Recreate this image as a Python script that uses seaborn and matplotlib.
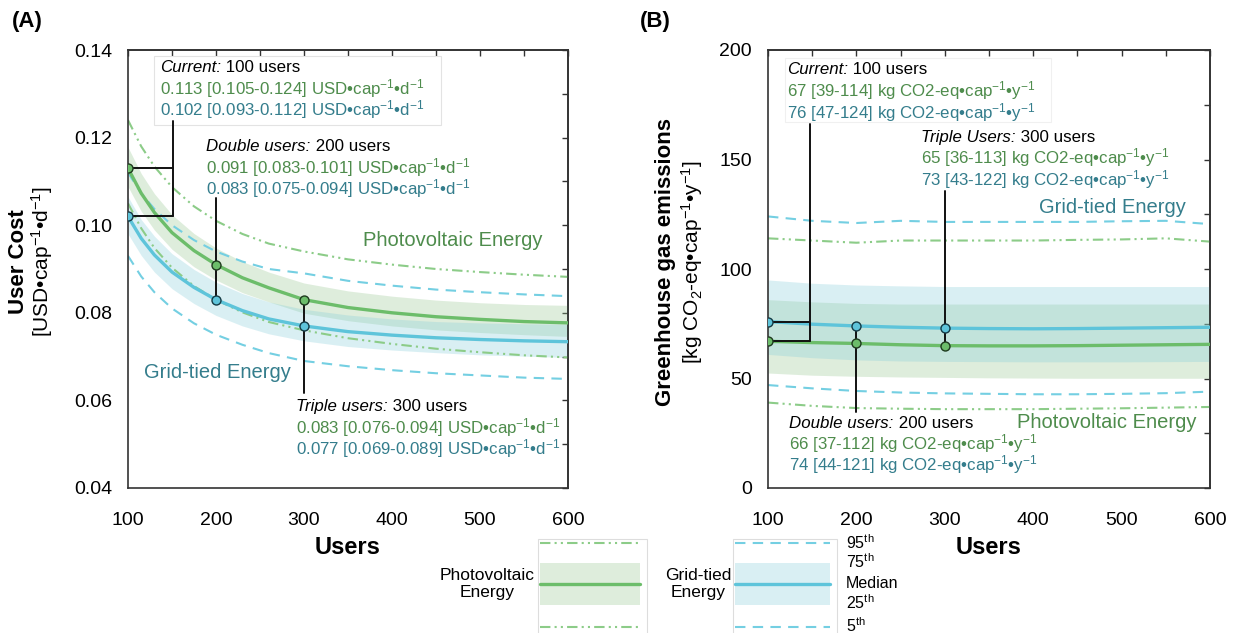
import matplotlib
matplotlib.use("Agg")
import matplotlib.pyplot as plt
import seaborn as sns
from matplotlib.patches import Rectangle
from matplotlib.ticker import MultipleLocator, FormatStrFormatter

# ---------------- data ----------------
# Panel A: user cost [USD/cap/d] vs number of users
users_a = [100, 115, 130, 150, 175, 200, 230, 260, 300, 350, 400, 450, 500, 550, 600]
pv_cost_p50 = [0.1130, 0.1073, 0.1029, 0.0983, 0.0942, 0.0910, 0.0880, 0.0857, 0.0830,
               0.0812, 0.0800, 0.0791, 0.0785, 0.0780, 0.0777]
pv_cost_p25 = [0.1088, 0.1032, 0.0989, 0.0945, 0.0905, 0.0875, 0.0846, 0.0825, 0.0799,
               0.0782, 0.0770, 0.0761, 0.0755, 0.0750, 0.0746]
pv_cost_p75 = [0.1178, 0.1118, 0.1072, 0.1024, 0.0981, 0.0948, 0.0917, 0.0893, 0.0868,
               0.0850, 0.0838, 0.0829, 0.0823, 0.0819, 0.0817]
pv_cost_p5 = [0.1050, 0.0993, 0.0948, 0.0903, 0.0861, 0.0830, 0.0801, 0.0779, 0.0760,
              0.0742, 0.0729, 0.0718, 0.0710, 0.0703, 0.0698]
pv_cost_p95 = [0.1240, 0.1180, 0.1134, 0.1087, 0.1043, 0.1010, 0.0980, 0.0958, 0.0940,
               0.0922, 0.0910, 0.0900, 0.0893, 0.0887, 0.0882]
grid_cost_p50 = [0.1020, 0.0970, 0.0932, 0.0893, 0.0858, 0.0830, 0.0805, 0.0786, 0.0770,
                 0.0757, 0.0749, 0.0743, 0.0739, 0.0736, 0.0734]
grid_cost_p25 = [0.0980, 0.0931, 0.0893, 0.0855, 0.0821, 0.0794, 0.0770, 0.0752, 0.0736,
                 0.0723, 0.0715, 0.0709, 0.0704, 0.0701, 0.0698]
grid_cost_p75 = [0.1065, 0.1013, 0.0975, 0.0935, 0.0899, 0.0870, 0.0844, 0.0825, 0.0808,
                 0.0795, 0.0786, 0.0780, 0.0777, 0.0775, 0.0774]
grid_cost_p5 = [0.0930, 0.0883, 0.0847, 0.0810, 0.0776, 0.0750, 0.0727, 0.0708, 0.0690,
                0.0678, 0.0669, 0.0662, 0.0657, 0.0652, 0.0649]
grid_cost_p95 = [0.1120, 0.1073, 0.1037, 0.1000, 0.0966, 0.0940, 0.0917, 0.0900, 0.0890,
                 0.0873, 0.0862, 0.0853, 0.0847, 0.0842, 0.0838]

# Panel B: greenhouse gas emissions [kg CO2-eq/cap/y] vs number of users
users_b = [100, 150, 200, 250, 300, 350, 400, 450, 500, 550, 600]
pv_ghg_p50 = [67, 66.4, 66, 65.4, 65, 64.9, 64.9, 65, 65.2, 65.4, 65.6]
pv_ghg_p25 = [52.5, 51.5, 51, 50.7, 50.5, 50.3, 50.2, 50.1, 50.1, 50.1, 50.1]
pv_ghg_p75 = [86, 85, 84.3, 84, 84, 84, 84, 84, 84, 84, 84]
pv_ghg_p5 = [39, 37.5, 36.5, 36.2, 36, 36, 36, 36.2, 36.4, 36.7, 37]
pv_ghg_p95 = [114, 113, 112, 113, 113, 113, 113, 113.3, 113.5, 114, 112.5]
grid_ghg_p50 = [76, 74.8, 74, 73.4, 73, 72.8, 72.7, 72.8, 73, 73.2, 73.4]
grid_ghg_p25 = [61, 59.5, 58.5, 58, 57.8, 57.7, 57.6, 57.6, 57.6, 57.7, 57.8]
grid_ghg_p75 = [95, 93.5, 92.7, 92.3, 92, 92, 92, 92, 92, 92, 92]
grid_ghg_p5 = [47, 45.5, 44.3, 43.6, 43.2, 43, 42.8, 42.8, 43, 43.3, 44]
grid_ghg_p95 = [124, 122, 121, 122, 121.5, 121.5, 121.5, 121.5, 121.8, 122, 120.5]

# highlighted scenarios
scen_users = [100, 200, 300]
scen_names_a = ["Current", "Double users", "Triple users"]
scen_names_b = ["Current", "Double users", "Triple Users"]
pv_cost_med = [0.113, 0.091, 0.083]
pv_cost_lo = [0.105, 0.083, 0.076]
pv_cost_hi = [0.124, 0.101, 0.094]
grid_cost_med = [0.102, 0.083, 0.077]
grid_cost_lo = [0.093, 0.075, 0.069]
grid_cost_hi = [0.112, 0.094, 0.089]
pv_ghg_med = [67, 66, 65]
pv_ghg_lo = [39, 37, 36]
pv_ghg_hi = [114, 112, 113]
grid_ghg_med = [76, 74, 73]
grid_ghg_lo = [47, 44, 43]
grid_ghg_hi = [124, 121, 122]

# ---------------- style ----------------
sns.set_style("white")
plt.rcParams["font.family"] = ["Liberation Sans", "DejaVu Sans"]
plt.rcParams["text.color"] = "black"
plt.rcParams["axes.labelcolor"] = "black"
plt.rcParams["mathtext.fontset"] = "custom"
plt.rcParams["mathtext.rm"] = "Liberation Sans"
plt.rcParams["mathtext.it"] = "Liberation Sans:italic"
plt.rcParams["mathtext.bf"] = "Liberation Sans:bold"

PV_LINE = "#6cbd6a"
PV_DASH = "#8ccc88"
PV_BAND = "#94c68e"
PV_TEXT = "#4e8c4c"
GR_LINE = "#5ec4da"
GR_DASH = "#74cfe2"
GR_BAND = "#84cdda"
GR_TEXT = "#347d8c"
SPINE = "#333333"
DASHDOT = (5, 2, 1, 2, 1, 2)
DASHED = (5, 3.5)

W, H = 1233, 633
fig = plt.figure(figsize=(W / 100, H / 100), dpi=100)
fig.patch.set_facecolor("white")


def px_axes(left, top, right, bottom):
    return fig.add_axes([left / W, 1 - bottom / H, (right - left) / W, (bottom - top) / H])


def style_axes(ax, ymaj, ymin):
    ax.set_xlim(100, 600)
    ax.xaxis.set_major_locator(MultipleLocator(100))
    ax.xaxis.set_minor_locator(MultipleLocator(50))
    ax.yaxis.set_major_locator(MultipleLocator(ymaj))
    ax.yaxis.set_minor_locator(MultipleLocator(ymin))
    for s in ax.spines.values():
        s.set_color(SPINE)
        s.set_linewidth(1.2)
    ax.tick_params(which="major", direction="inout", length=9, width=1.1, color=SPINE,
                   labelsize=14, labelcolor="black")
    ax.tick_params(axis="y", which="major", pad=7)
    ax.tick_params(axis="x", which="major", pad=13)
    ax.tick_params(which="minor", direction="in", length=4, width=1.0, color=SPINE)
    ax.tick_params(top=False, right=False, which="both")
    sx = ax.secondary_xaxis("top")
    sx.xaxis.set_major_locator(MultipleLocator(50))
    sx.tick_params(direction="in", length=4, width=1.0, color=SPINE, labeltop=False)
    sx.spines["top"].set_color(SPINE)
    sx.spines["top"].set_linewidth(1.2)
    sy = ax.secondary_yaxis("right")
    sy.yaxis.set_major_locator(MultipleLocator(ymin))
    sy.tick_params(direction="in", length=4, width=1.0, color=SPINE, labelright=False)
    sy.spines["right"].set_color(SPINE)
    sy.spines["right"].set_linewidth(1.2)
    ax.set_xlabel("")
    ax.set_ylabel("")


def draw_panel(ax, x, pv, gr):
    p5, p25, p50, p75, p95 = pv
    g5, g25, g50, g75, g95 = gr
    ax.fill_between(x, p25, p75, color=PV_BAND, alpha=0.3, lw=0, zorder=1)
    ax.fill_between(x, g25, g75, color=GR_BAND, alpha=0.3, lw=0, zorder=1.1)
    for y in (p5, p95):
        sns.lineplot(x=x, y=y, ax=ax, color=PV_DASH, lw=1.5, dashes=DASHDOT, zorder=2)
    for y in (g5, g95):
        sns.lineplot(x=x, y=y, ax=ax, color=GR_DASH, lw=1.5, dashes=DASHED, zorder=2)
    sns.lineplot(x=x, y=p50, ax=ax, color=PV_LINE, lw=2.4, zorder=3)
    sns.lineplot(x=x, y=g50, ax=ax, color=GR_LINE, lw=2.4, zorder=3)


def markers(ax, pv_vals, gr_vals):
    sns.scatterplot(x=scen_users, y=pv_vals, ax=ax, color=PV_LINE, s=42,
                    edgecolor="#1e3a1e", linewidth=1.0, zorder=6)
    sns.scatterplot(x=scen_users, y=gr_vals, ax=ax, color=GR_LINE, s=42,
                    edgecolor="#143a44", linewidth=1.0, zorder=6)


def vline(ax, x, y0, y1):
    ax.plot([x, x], [y0, y1], color="#111111", lw=1.4, zorder=5)


def hline(ax, x0, x1, y):
    ax.plot([x0, x1], [y, y], color="#111111", lw=1.4, zorder=5)


def note(ax, x, ys, name, n, pv_line, gr_line, size=12.2):
    t = ax.text(x, ys[0], name + ":", fontsize=size, style="italic", color="black",
                va="center", ha="left", zorder=7)
    ax.annotate(f" {n} users", xy=(1, 0.5), xycoords=t, fontsize=size, color="black",
                va="center", ha="left", zorder=7)
    ax.text(x, ys[1], pv_line, fontsize=size, color=PV_TEXT, va="center", ha="left", zorder=7)
    ax.text(x, ys[2], gr_line, fontsize=size, color=GR_TEXT, va="center", ha="left", zorder=7)


COST_UNIT = r" USD•cap$^{-1}$•d$^{-1}$"
GHG_UNIT = r" kg CO2-eq•cap$^{-1}$•y$^{-1}$"

# ---------------- panel A ----------------
axA = px_axes(128, 50, 568, 488)
draw_panel(axA, users_a,
           (pv_cost_p5, pv_cost_p25, pv_cost_p50, pv_cost_p75, pv_cost_p95),
           (grid_cost_p5, grid_cost_p25, grid_cost_p50, grid_cost_p75, grid_cost_p95))
axA.set_ylim(0.04, 0.14)
style_axes(axA, 0.02, 0.01)
axA.yaxis.set_major_formatter(FormatStrFormatter("%.2f"))
markers(axA, pv_cost_med, grid_cost_med)

axA.add_patch(Rectangle((130, 0.1229), 326, 0.0157, facecolor="white",
                        edgecolor="#e3e3e3", lw=0.8, zorder=4))
# current
vline(axA, 151, 0.1238, grid_cost_med[0])
hline(axA, 100, 151, pv_cost_med[0])
hline(axA, 100, 151, grid_cost_med[0])
# double / triple
vline(axA, 200, 0.1062, grid_cost_med[1])
vline(axA, 300, pv_cost_med[2], 0.0617)

fmt_c = lambda m, lo, hi: f"{m:.3f} [{lo:.3f}-{hi:.3f}]" + COST_UNIT
anchors_a = [(136, (0.1360, 0.1313, 0.1265)),
             (189, (0.1179, 0.1131, 0.1083)),
             (291, (0.0585, 0.0537, 0.0489))]
for i, (xa, ys) in enumerate(anchors_a):
    note(axA, xa, ys, scen_names_a[i], scen_users[i],
         fmt_c(pv_cost_med[i], pv_cost_lo[i], pv_cost_hi[i]),
         fmt_c(grid_cost_med[i], grid_cost_lo[i], grid_cost_hi[i]))

axA.text(469, 0.0964, "Photovoltaic Energy", color=PV_TEXT, fontsize=14.5, ha="center", va="center")
axA.text(202, 0.0663, "Grid-tied Energy", color=GR_TEXT, fontsize=14.5, ha="center", va="center")

# ---------------- panel B ----------------
axB = px_axes(768, 50, 1210, 488)
draw_panel(axB, users_b,
           (pv_ghg_p5, pv_ghg_p25, pv_ghg_p50, pv_ghg_p75, pv_ghg_p95),
           (grid_ghg_p5, grid_ghg_p25, grid_ghg_p50, grid_ghg_p75, grid_ghg_p95))
axB.set_ylim(0, 200)
style_axes(axB, 50, 25)
markers(axB, pv_ghg_med, grid_ghg_med)

axB.add_patch(Rectangle((119, 167), 301, 29.5, facecolor="white",
                        edgecolor="#f0f0f0", lw=0.8, zorder=4))
vline(axB, 148, 166, pv_ghg_med[0])
hline(axB, 100, 148, pv_ghg_med[0])
hline(axB, 100, 148, grid_ghg_med[0])
vline(axB, 200, grid_ghg_med[1], 34.8)
vline(axB, 300, 135.6, pv_ghg_med[2])

fmt_g = lambda m, lo, hi: f"{m} [{lo}-{hi}]" + GHG_UNIT
anchors_b = [(121.5, (191.0, 181.3, 171.6)),
             (124, (29.6, 20.1, 10.6)),
             (273, (160.0, 150.7, 141.0))]
for i, (xa, ys) in enumerate(anchors_b):
    note(axB, xa, ys, scen_names_b[i], scen_users[i],
         fmt_g(pv_ghg_med[i], pv_ghg_lo[i], pv_ghg_hi[i]),
         fmt_g(grid_ghg_med[i], grid_ghg_lo[i], grid_ghg_hi[i]))

axB.text(573, 128.3, "Grid-tied Energy", color=GR_TEXT, fontsize=14.5, ha="right", va="center")
axB.text(585, 29.7, "Photovoltaic Energy", color=PV_TEXT, fontsize=14.5, ha="right", va="center")

# ---------------- axis titles ----------------
def ftext(x, y, s, **kw):
    fig.text(x / W, 1 - y / H, s, **kw)


ftext(12, 22, "(A)", fontsize=16, fontweight="bold", va="center", ha="left")
ftext(640, 22, "(B)", fontsize=16, fontweight="bold", va="center", ha="left")
ftext(19, 262, "User Cost", fontsize=16, fontweight="bold", rotation=90, va="center", ha="center")
ftext(42, 262, r"[USD•cap$^{-1}$•d$^{-1}$]", fontsize=15, rotation=90, va="center", ha="center")
ftext(665, 262, "Greenhouse gas emissions", fontsize=16, fontweight="bold", rotation=90,
      va="center", ha="center")
ftext(692, 262, r"[kg CO$_2$-eq•cap$^{-1}$•y$^{-1}$]", fontsize=15, rotation=90,
      va="center", ha="center")
ftext(348, 547, "Users", fontsize=17, fontweight="bold", va="center", ha="center")
ftext(989, 547, "Users", fontsize=17, fontweight="bold", va="center", ha="center")

# ---------------- legend ----------------
leg = fig.add_axes([0, 0, 1, 1])
leg.set_xlim(0, W)
leg.set_ylim(H, 0)
leg.axis("off")
leg.patch.set_alpha(0)


def legend_box(x0, x1, band, line, dash_col, dashes):
    leg.add_patch(Rectangle((x0, 539), x1 - x0, 110, facecolor="white",
                            edgecolor="#dddddd", lw=0.8))
    xs = [x0 + 2, x1 - 7]
    leg.fill_between(xs, [563, 563], [605, 605], color=band, alpha=0.3, lw=0)
    sns.lineplot(x=xs, y=[584, 584], ax=leg, color=line, lw=2.4)
    for yy in (543, 627):
        sns.lineplot(x=xs, y=[yy, yy], ax=leg, color=dash_col, lw=1.5, dashes=dashes)


legend_box(538, 647, PV_BAND, PV_LINE, PV_DASH, DASHDOT)
legend_box(733, 837, GR_BAND, GR_LINE, GR_DASH, DASHED)
leg.set_xlim(0, W)
leg.set_ylim(H, 0)
leg.text(487, 584, "Photovoltaic\nEnergy", fontsize=12.5, ha="center", va="center", linespacing=1.15)
leg.text(698, 584, "Grid-tied\nEnergy", fontsize=12.5, ha="center", va="center", linespacing=1.15)
for yy, lab in [(543, r"95$^{\mathrm{th}}$"), (562, r"75$^{\mathrm{th}}$"), (583, "Median"),
                (603, r"25$^{\mathrm{th}}$"), (626, r"5$^{\mathrm{th}}$")]:
    leg.text(846, yy, lab, fontsize=11.5, ha="left", va="center")

fig.savefig("out.png", dpi=100)
